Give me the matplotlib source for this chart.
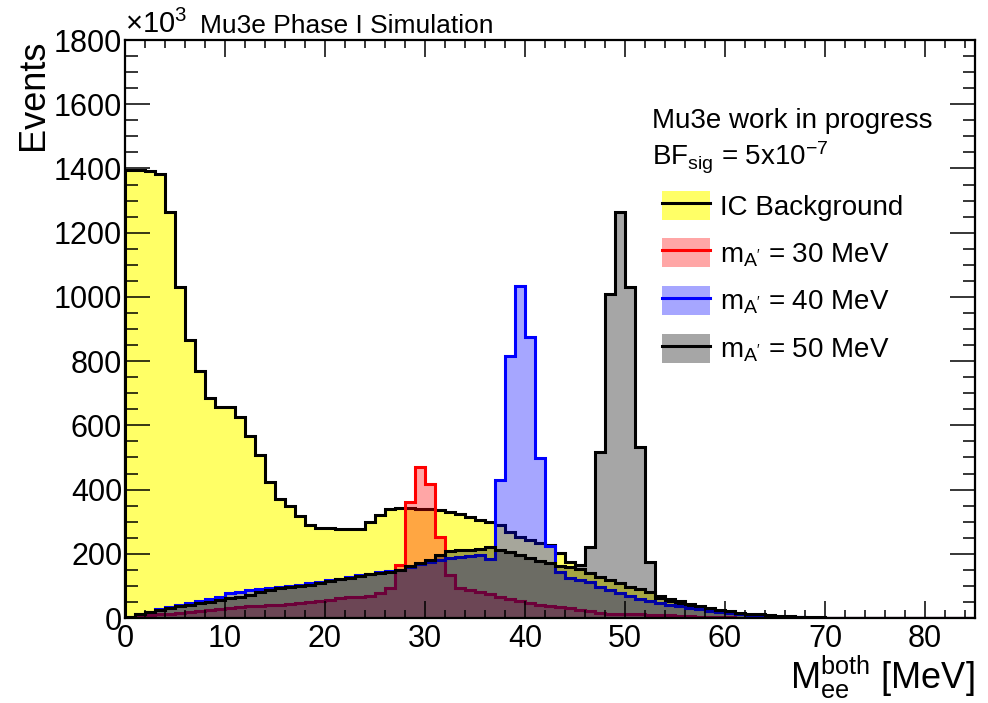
import numpy as np
import matplotlib.pyplot as plt
from matplotlib.patches import Patch
from matplotlib.lines import Line2D
from matplotlib.ticker import MultipleLocator

plt.rcParams['font.family'] = ['Liberation Sans', 'DejaVu Sans']
plt.rcParams['mathtext.fontset'] = 'custom'
plt.rcParams['mathtext.rm'] = 'Liberation Sans'
plt.rcParams['mathtext.it'] = 'Liberation Sans:italic'
plt.rcParams['mathtext.default'] = 'regular'

# 1 MeV bins from 0 to 85 MeV, counts in units of 10^3 events
edges = np.arange(0, 86, 1)

ic_background = [
    1395, 1395, 1393, 1383, 1264, 1031, 866, 769, 685, 657,
    657, 626, 567, 508, 424, 371, 350, 318, 289, 281,
    279, 277, 276, 277, 299, 321, 339, 342, 342, 341,
    340, 336, 330, 325, 315, 305, 300, 290, 268, 252,
    243, 234, 227, 202, 175, 152, 140, 128, 118, 108,
    98, 90, 82, 62, 52, 44, 37, 30, 25, 20,
    16, 13, 10, 8, 6, 4, 3, 2, 1.5, 1,
    0.5, 0, 0, 0, 0, 0, 0, 0, 0, 0,
    0, 0, 0, 0, 0,
]

sig_30 = [
    1, 4, 8, 11, 14, 17, 20, 23, 26, 29,
    32, 34, 36, 38, 40, 41, 43, 46, 50, 54,
    57, 61, 64, 66, 70, 78, 93, 165, 361, 470,
    417, 252, 134, 95, 88, 80, 74, 66, 58, 52,
    47, 42, 38, 34, 30, 25, 21, 17, 14, 12,
    11, 11, 10, 9, 8, 6, 5, 4, 3, 2.5,
    2, 1.5, 1, 0.8, 0.5, 0.3, 0, 0, 0, 0,
    0, 0, 0, 0, 0, 0, 0, 0, 0, 0,
    0, 0, 0, 0, 0,
]

sig_40 = [
    3, 12, 20, 27, 34, 40, 46, 52, 58, 64,
    78, 80, 86, 90, 94, 97, 100, 104, 108, 113,
    118, 123, 128, 133, 138, 143, 146, 150, 160, 167,
    174, 180, 186, 190, 194, 196, 185, 430, 815, 1034,
    875, 498, 224, 143, 125, 118, 112, 98, 88, 78,
    68, 60, 53, 47, 41, 36, 31, 27, 23, 19,
    16, 13, 10, 8, 6, 4, 3, 2, 1.5, 1,
    0.5, 0, 0, 0, 0, 0, 0, 0, 0, 0,
    0, 0, 0, 0, 0,
]

sig_50 = [
    3, 14, 19, 26, 32, 37, 42, 47, 51, 55,
    62, 66, 72, 80, 86, 92, 96, 100, 104, 109,
    115, 120, 126, 132, 137, 140, 144, 148, 162, 172,
    182, 196, 210, 212, 213, 215, 220, 212, 205, 196,
    187, 178, 170, 162, 158, 165, 221, 517, 1009, 1264,
    1031, 533, 174, 68, 60, 52, 44, 37, 31, 26,
    21, 17, 14, 11, 8, 6, 5, 4, 3, 2,
    1.5, 1, 0.5, 0, 0, 0, 0, 0, 0, 0,
    0, 0, 0, 0, 0,
]

labels = ['IC Background', r"m$_{A'}$ = 30 MeV", r"m$_{A'}$ = 40 MeV", r"m$_{A'}$ = 50 MeV"]
fills = [('#ffff66', 1.0), ('#ff0000', 0.35), ('#0000ff', 0.35), ('#000000', 0.35)]
lines = ['black', 'red', 'blue', 'black']

fig = plt.figure(figsize=(9.88, 7.03), dpi=100)
ax = fig.add_axes([0.1265, 0.1209, 0.8603, 0.8222])

handles = []
for vals, (fc, a), lc, lab in zip([ic_background, sig_30, sig_40, sig_50], fills, lines, labels):
    ax.stairs(vals, edges, fill=True, facecolor=fc, alpha=a, linewidth=0)
    ax.stairs(vals, edges, color=lc, linewidth=2.2, baseline=0)
    handles.append((Patch(facecolor=fc, alpha=a, linewidth=0), Line2D([0], [0], color=lc, lw=2.2)))

ax.set_xlim(0, 85)
ax.set_ylim(0, 1800)
ax.xaxis.set_major_locator(MultipleLocator(10))
ax.xaxis.set_minor_locator(MultipleLocator(2))
ax.yaxis.set_major_locator(MultipleLocator(200))
ax.yaxis.set_minor_locator(MultipleLocator(50))
ax.tick_params(which='both', direction='in', top=True, right=True, width=1.1, labelsize=22)
ax.tick_params(axis='x', which='major', length=12, pad=4)
ax.tick_params(axis='x', which='minor', length=6)
ax.tick_params(axis='y', which='major', length=18, pad=2)
ax.tick_params(axis='y', which='minor', length=9)
for s in ax.spines.values():
    s.set_linewidth(1.6)

ax.set_xlabel(r'M$_{ee}^{both}$ [MeV]', fontsize=26, loc='right', labelpad=0)
ax.set_ylabel('Events', fontsize=26, loc='top', labelpad=2)

fig.text(0.1265, 0.953, '×10$^{3}$', fontsize=21, ha='left', va='baseline')
fig.text(0.2024, 0.953, 'Mu3e Phase I Simulation', fontsize=19, ha='left', va='baseline')

fig.text(0.66, 0.818, 'Mu3e work in progress', fontsize=20, ha='left', va='baseline')
fig.text(0.66, 0.765, r'BF$_{sig}$ = 5x10$^{-7}$', fontsize=20, ha='left', va='baseline')

ax.legend(handles, labels, loc='upper left', bbox_to_anchor=(0.632, 0.739), frameon=False,
          fontsize=20, borderpad=0, borderaxespad=0, handlelength=1.73, handleheight=1.25,
          handletextpad=0.36, labelspacing=0.62)

fig.savefig('out.png', dpi=100)
